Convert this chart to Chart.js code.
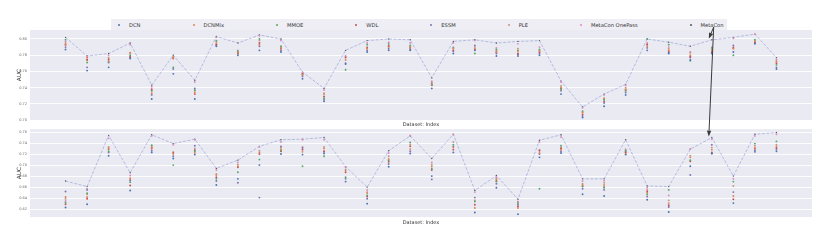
<!DOCTYPE html>
<html>
<head>
<meta charset="utf-8">
<script src="https://cdn.jsdelivr.net/npm/chart.js@4.4.0/dist/chart.umd.min.js"></script>
<style>
  html, body { margin: 0; padding: 0; background: #fff; }
  #wrap { position: relative; width: 830px; height: 243px; overflow: hidden; font-family: "DejaVu Sans", sans-serif; }
  #topBox { position: absolute; left: 0; top: 0; width: 830px; height: 128px; }
  #botBox { position: absolute; left: 0; top: 124px; width: 830px; height: 102px; }
  #legend { position: absolute; left: 111px; top: 19px; height: 11px; padding: 0 3px 0 7px;
            background: #eeeef4; display: flex; align-items: center; column-gap: 52px; }
  .item { display: flex; align-items: center; font-size: 5.2px; color: #333; white-space: nowrap; }
  .dot { width: 2px; height: 2px; border-radius: 1px; margin-right: 9px; }
  #arrows { position: absolute; left: 0; top: 0; pointer-events: none; }
</style>
</head>
<body>
<div id="wrap">
  <div id="topBox"><canvas id="topChart" width="830" height="128"></canvas></div>
  <div id="botBox"><canvas id="botChart" width="830" height="102"></canvas></div>
  <div id="legend"></div>
  <canvas id="arrows" width="830" height="243"></canvas>
</div>
<script>
// dataset indices on the x axis
const categories = [0, 1, 2, 3, 4, 5, 6, 7, 8, 9, 10, 11, 12, 13, 14, 15, 16,
                    17, 18, 19, 20, 21, 22, 23, 24, 25, 26, 27, 28, 29, 30, 31, 32, 33];
const seriesNames = ['DCN', 'DCNMix', 'MMOE', 'WDL', 'ESSM', 'PLE', 'MetaCon OnePass', 'MetaCon'];

// y tick labels
const topTicks = [0.70, 0.72, 0.74, 0.76, 0.78, 0.80];
const botTicks = [0.62, 0.64, 0.66, 0.68, 0.70, 0.72, 0.74, 0.76];

// upper subplot (AUC)
const topDCN      = [0.787,0.761,0.765,0.776,0.726,0.757,0.726,0.791,0.780,0.786,0.784,0.751,0.723,0.769,0.784,0.786,0.786,0.739,0.782,0.786,0.779,0.779,0.780,0.732,0.703,0.717,0.731,0.786,0.782,0.774,0.782,0.784,0.794,0.763];
const topDCNMix   = [0.793,0.777,0.773,0.783,0.733,0.777,0.734,0.795,0.783,0.793,0.789,0.756,0.732,0.774,0.788,0.790,0.790,0.744,0.788,0.788,0.784,0.785,0.785,0.740,0.709,0.727,0.738,0.791,0.786,0.780,0.786,0.788,0.797,0.772];
const topMMOE     = [0.799,0.771,0.772,0.780,0.736,0.765,0.737,0.798,0.785,0.800,0.791,0.756,0.727,0.762,0.793,0.794,0.792,0.743,0.789,0.782,0.787,0.786,0.787,0.738,0.711,0.725,0.736,0.800,0.793,0.773,0.789,0.780,0.799,0.768];
const topWDL      = [0.793,0.774,0.775,0.778,0.738,0.776,0.732,0.793,0.782,0.795,0.788,0.757,0.729,0.777,0.789,0.791,0.789,0.743,0.786,0.787,0.784,0.782,0.784,0.739,0.707,0.723,0.737,0.793,0.785,0.778,0.784,0.789,0.796,0.770];
const topESSM     = [0.790,0.765,0.771,0.777,0.731,0.763,0.739,0.793,0.783,0.791,0.786,0.754,0.725,0.770,0.786,0.788,0.787,0.745,0.785,0.792,0.782,0.781,0.782,0.736,0.705,0.721,0.734,0.789,0.783,0.777,0.783,0.792,0.795,0.765];
const topPLE      = [0.795,0.775,0.777,0.782,0.736,0.778,0.736,0.797,0.784,0.798,0.790,0.757,0.733,0.778,0.790,0.792,0.791,0.747,0.790,0.790,0.786,0.788,0.786,0.742,0.710,0.726,0.740,0.794,0.788,0.783,0.787,0.790,0.798,0.773];
const topOnePass  = [0.797,0.778,0.780,0.793,0.741,0.778,0.747,0.802,0.786,0.804,0.798,0.758,0.737,0.779,0.795,0.796,0.795,0.748,0.795,0.798,0.789,0.794,0.790,0.747,0.715,0.731,0.743,0.795,0.790,0.784,0.790,0.801,0.806,0.775];
const topMetaCon  = [0.802,0.779,0.782,0.795,0.743,0.780,0.749,0.803,0.795,0.805,0.800,0.759,0.739,0.786,0.798,0.800,0.799,0.752,0.797,0.799,0.795,0.797,0.798,0.748,0.716,0.732,0.744,0.800,0.796,0.791,0.799,0.802,0.806,0.777];

// lower subplot (AUC)
const botDCN      = [0.623,0.629,0.717,0.654,0.723,0.712,0.719,0.664,0.675,0.700,0.720,0.719,0.721,0.670,0.630,0.697,0.721,0.680,0.723,0.614,0.659,0.611,0.714,0.722,0.647,0.644,0.719,0.637,0.615,0.698,0.721,0.631,0.724,0.725];
const botDCNMix   = [0.642,0.642,0.731,0.676,0.732,0.720,0.722,0.682,0.698,0.723,0.729,0.724,0.730,0.690,0.651,0.711,0.729,0.698,0.732,0.622,0.674,0.622,0.722,0.728,0.664,0.664,0.720,0.650,0.631,0.714,0.728,0.644,0.731,0.734];
const botMMOE     = [0.632,0.649,0.725,0.669,0.736,0.700,0.725,0.675,0.687,0.710,0.727,0.698,0.716,0.678,0.645,0.709,0.741,0.694,0.737,0.634,0.670,0.631,0.657,0.735,0.661,0.659,0.726,0.647,0.655,0.709,0.721,0.670,0.739,0.743];
const botWDL      = [0.629,0.639,0.729,0.663,0.730,0.722,0.727,0.678,0.696,0.720,0.725,0.728,0.725,0.687,0.643,0.706,0.734,0.691,0.728,0.628,0.671,0.625,0.726,0.730,0.662,0.660,0.723,0.652,0.627,0.707,0.723,0.638,0.730,0.731];
const botESSM     = [0.652,0.655,0.723,0.672,0.726,0.716,0.735,0.671,0.668,0.641,0.734,0.731,0.724,0.675,0.639,0.702,0.725,0.674,0.734,0.641,0.666,0.628,0.720,0.725,0.657,0.655,0.724,0.643,0.624,0.682,0.737,0.651,0.727,0.729];
const botPLE      = [0.639,0.647,0.733,0.674,0.734,0.724,0.730,0.684,0.701,0.726,0.732,0.733,0.733,0.692,0.649,0.716,0.737,0.701,0.742,0.636,0.676,0.632,0.728,0.732,0.666,0.668,0.727,0.655,0.636,0.717,0.732,0.662,0.735,0.737];
const botOnePass  = [0.635,0.657,0.749,0.681,0.753,0.737,0.746,0.691,0.705,0.733,0.742,0.746,0.746,0.696,0.655,0.722,0.754,0.705,0.755,0.651,0.678,0.634,0.742,0.751,0.671,0.672,0.729,0.659,0.645,0.729,0.747,0.675,0.753,0.756];
const botMetaCon  = [0.671,0.661,0.754,0.686,0.755,0.739,0.747,0.694,0.709,0.734,0.746,0.747,0.750,0.697,0.660,0.726,0.753,0.712,0.756,0.654,0.681,0.638,0.745,0.755,0.675,0.675,0.746,0.662,0.661,0.729,0.750,0.680,0.756,0.759];

const colors = ['#4c72b0', '#dd8452', '#55a868', '#c44e52', '#8172b3', '#c8957a', '#da8bc3', '#555555'];
const FONT = '"DejaVu Sans", sans-serif';

function pts(arr) {
  return categories.map((c, i) => ({ x: c, y: arr[i] }));
}

function buildDatasets(scatterArrays, lineArray) {
  const ds = [{
    type: 'line',
    label: seriesNames[7],
    data: pts(lineArray),
    borderColor: 'rgba(140,156,214,0.75)',
    borderWidth: 0.8,
    borderDash: [3, 1.5],
    pointRadius: 0.7,
    pointBackgroundColor: colors[7],
    pointBorderWidth: 0,
    tension: 0,
    order: 10
  }];
  scatterArrays.forEach((arr, k) => {
    ds.push({
      type: 'scatter',
      label: seriesNames[k],
      data: pts(arr),
      backgroundColor: colors[k],
      pointRadius: 0.95,
      pointBorderWidth: 0,
      order: k
    });
  });
  return ds;
}

const plotBg = {
  id: 'plotBg',
  beforeDraw(chart) {
    const a = chart.chartArea, ctx = chart.ctx;
    ctx.save();
    ctx.fillStyle = '#eaeaf2';
    ctx.fillRect(a.left, a.top, a.right - a.left, a.bottom - a.top);
    ctx.restore();
  }
};

function makeOptions(yMin, yMax, ticks, padTop, xHeight) {
  return {
    responsive: false,
    animation: false,
    events: [],
    layout: { padding: { left: 0, right: 18, top: padTop, bottom: 0 } },
    plugins: { legend: { display: false }, tooltip: { enabled: false } },
    scales: {
      x: {
        type: 'linear', min: -1.65, max: 34.65,
        ticks: { display: false },
        grid: { display: false },
        border: { display: false },
        title: { display: true, text: 'Dataset: Index', color: '#333',
                 font: { family: FONT, size: 5 }, padding: { top: 1, bottom: 0 } },
        afterFit(s) { s.height = xHeight; }
      },
      y: {
        min: yMin, max: yMax,
        afterBuildTicks(s) { s.ticks = ticks.map(v => ({ value: v })); },
        ticks: { color: '#666', padding: 3, font: { family: FONT, size: 3.5 },
                 callback: v => v.toFixed(2) },
        grid: { color: '#ffffff', lineWidth: 0.9, drawTicks: false },
        border: { display: false },
        title: { display: true, text: 'AUC', color: '#333',
                 font: { family: FONT, size: 5.8 }, padding: { top: 16, bottom: 0 } },
        afterFit(s) { s.width = 30; }
      }
    }
  };
}

const topChart = new Chart(document.getElementById('topChart'), {
  data: { datasets: buildDatasets([topDCN, topDCNMix, topMMOE, topWDL, topESSM, topPLE, topOnePass], topMetaCon) },
  options: makeOptions(0.70, 0.8111, topTicks, 30, 8),
  plugins: [plotBg]
});

const botChart = new Chart(document.getElementById('botChart'), {
  data: { datasets: buildDatasets([botDCN, botDCNMix, botMMOE, botWDL, botESSM, botPLE, botOnePass], botMetaCon) },
  options: makeOptions(0.6058, 0.7653, botTicks, 3, 9),
  plugins: [plotBg]
});

// legend
const legend = document.getElementById('legend');
const labelEls = [];
seriesNames.forEach((name, k) => {
  const item = document.createElement('div');
  item.className = 'item';
  const dot = document.createElement('span');
  dot.className = 'dot';
  dot.style.background = colors[k];
  const txt = document.createElement('span');
  txt.textContent = name;
  item.appendChild(dot);
  item.appendChild(txt);
  legend.appendChild(item);
  labelEls.push(txt);
});

// arrows from the "MetaCon" legend label to index 30 in both subplots
function arrow(ctx, x0, y0, x1, y1) {
  const ang = Math.atan2(y1 - y0, x1 - x0);
  const len = 6, half = 2.2;
  const bx = x1 - len * Math.cos(ang), by = y1 - len * Math.sin(ang);
  ctx.beginPath();
  ctx.moveTo(x0, y0);
  ctx.lineTo(bx, by);
  ctx.stroke();
  ctx.beginPath();
  ctx.moveTo(x1, y1);
  ctx.lineTo(bx - half * Math.sin(ang), by + half * Math.cos(ang));
  ctx.lineTo(bx + half * Math.sin(ang), by - half * Math.cos(ang));
  ctx.closePath();
  ctx.fill();
}

const wrapRect = document.getElementById('wrap').getBoundingClientRect();
const lab = labelEls[7].getBoundingClientRect();
const sx = lab.left - wrapRect.left + lab.width * 0.57;
const sy = document.getElementById('legend').getBoundingClientRect().top - wrapRect.top + 8;
const target = 30;
const botOffset = document.getElementById('botBox').offsetTop;
const t1x = topChart.scales.x.getPixelForValue(categories[target]) - 3;
const t1y = topChart.scales.y.getPixelForValue(topMetaCon[target]) - 1;
const t2x = botChart.scales.x.getPixelForValue(categories[target]) - 3;
const t2y = botChart.scales.y.getPixelForValue(botMetaCon[target]) + botOffset - 1;

const actx = document.getElementById('arrows').getContext('2d');
actx.strokeStyle = '#3a3a3a';
actx.fillStyle = '#3a3a3a';
actx.lineWidth = 1;
arrow(actx, sx, sy, t1x, t1y);
arrow(actx, sx, sy, t2x, t2y);
</script>
</body>
</html>
